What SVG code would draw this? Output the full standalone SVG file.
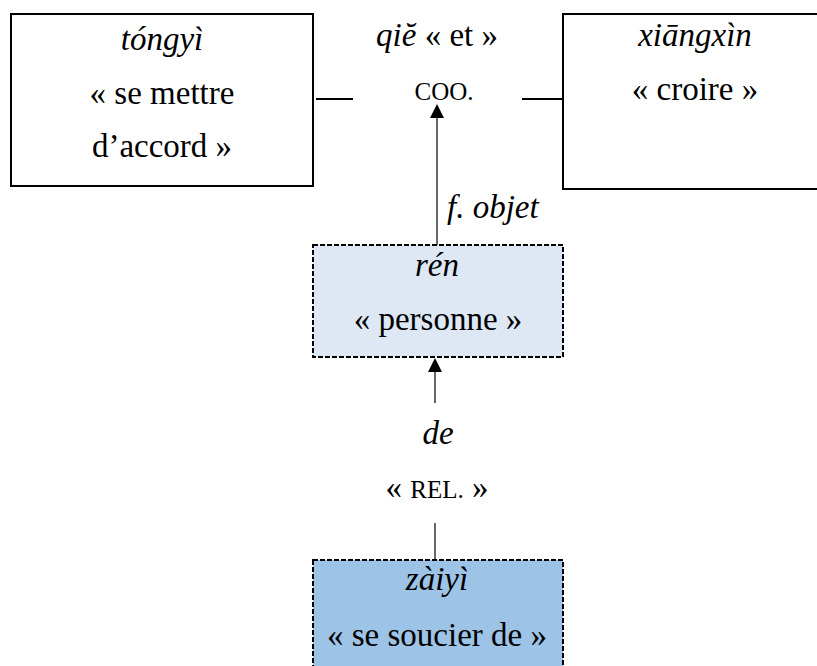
<svg xmlns="http://www.w3.org/2000/svg" width="817" height="666" viewBox="0 0 817 666">
<style>
text{font-family:"Liberation Serif","Times New Roman",serif;font-size:33px;fill:#000;text-anchor:middle}
.i{font-style:italic}
.sc{font-size:25px}
.box{fill:#fff;stroke:#000;stroke-width:2}
.dash{stroke:#000;stroke-width:2;stroke-dasharray:5 2}
.ln{stroke:#000;stroke-width:1.2;fill:none}
.hl{stroke:#000;stroke-width:2}
.ah{fill:#000}
</style>
<g id="connectors">
<line class="hl" x1="316" y1="99" x2="353" y2="99"/>
<line class="hl" x1="522" y1="99" x2="563" y2="99"/>
<line class="ln" x1="437" y1="245" x2="437" y2="118"/>
<polygon class="ah" points="437,104 430,118 444,118"/>
<line class="ln" x1="435" y1="403" x2="435" y2="372"/>
<polygon class="ah" points="435,358 428,372 442,372"/>
<line class="ln" x1="435" y1="523" x2="435" y2="560"/>
</g>
<g id="tongyi">
<rect class="box" x="11" y="14" width="302" height="172"/>
<text x="162" y="50" class="i">tóngyì</text>
<text x="162" y="104">« se mettre</text>
<text x="162" y="157">d’accord »</text>
</g>
<g id="qie">
<text x="437" y="46"><tspan class="i">qiĕ</tspan> « et »</text>
<text x="444" y="100" class="sc">COO.</text>
</g>
<g id="xiangxin">
<rect class="box" x="563" y="14" width="270" height="175"/>
<text x="695" y="46" class="i">xiāngxìn</text>
<text x="695" y="100">« croire »</text>
</g>
<text x="447" y="218" class="i" style="text-anchor:start">f. objet</text>
<g id="ren">
<rect x="313" y="245" width="250" height="112" fill="#dde8f4" class="dash"/>
<text x="437" y="276" class="i">rén</text>
<text x="438" y="330">« personne »</text>
</g>
<g id="de">
<text x="438" y="444" class="i">de</text>
<text x="437" y="498">« <tspan class="sc">REL.</tspan> »</text>
</g>
<g id="zaiyi">
<rect x="313" y="560" width="250" height="120" fill="#9dc3e6" class="dash"/>
<text x="437" y="590" class="i">zàiyì</text>
<text x="437" y="646">« se soucier de »</text>
</g>
</svg>
